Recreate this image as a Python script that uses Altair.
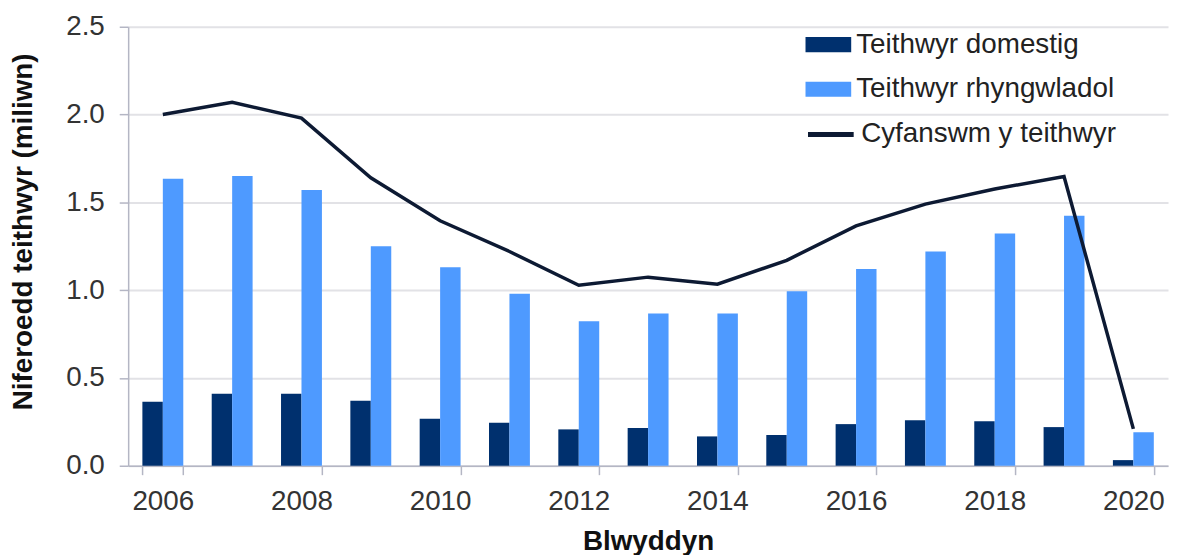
import altair as alt
import pandas as pd

years = list(range(2006, 2021))
domestic = [0.365, 0.41, 0.41, 0.37, 0.267, 0.245, 0.207, 0.215, 0.167, 0.175, 0.237, 0.259, 0.253, 0.22, 0.032]
international = [1.635, 1.65, 1.57, 1.25, 1.13, 0.98, 0.823, 0.867, 0.867, 0.994, 1.12, 1.22, 1.323, 1.424, 0.19]
total = [2.0, 2.07, 1.98, 1.64, 1.395, 1.22, 1.028, 1.074, 1.034, 1.17, 1.366, 1.49, 1.576, 1.647, 0.21]

bar_series = ["Teithwyr domestig", "Teithwyr rhyngwladol"]
line_series = ["Cyfanswm y teithwyr"]
bar_colors = ["#00306e", "#4e9aff"]
line_colors = ["#0d1a33"]
y_ticks = [0, 0.5, 1.0, 1.5, 2.0, 2.5]
x_label_years = [2006, 2008, 2010, 2012, 2014, 2016, 2018, 2020]

bars_df = pd.DataFrame({
    "year": years * 2,
    "series": [bar_series[0]] * len(years) + [bar_series[1]] * len(years),
    "value": domestic + international,
})
line_df = pd.DataFrame({
    "year": years,
    "series": line_series * len(years),
    "value": total,
})

FONT = "Liberation Sans"
AXIS_GRAY = "#b4b6c4"

x_enc = alt.X(
    "year:O",
    scale=alt.Scale(paddingInner=0.41, paddingOuter=0.205),
    axis=alt.Axis(
        values=x_label_years,
        labelAngle=0,
        tickBand="extent",
        tickSize=9,
        tickColor=AXIS_GRAY,
        tickWidth=1.5,
        domainColor=AXIS_GRAY,
        domainWidth=1.5,
        labelFont=FONT,
        labelFontSize=28,
        labelColor="#333333",
        labelBaseline="alphabetic",
        labelPadding=35,
        grid=False,
        title="Blwyddyn",
        titleFont=FONT,
        titleFontSize=28,
        titleFontWeight="bold",
        titleColor="#111111",
        titleBaseline="alphabetic",
        titleY=84,
    ),
)

y_enc = alt.Y(
    "value:Q",
    scale=alt.Scale(domain=[0, 2.5], nice=False),
    axis=alt.Axis(
        values=y_ticks,
        format=".1f",
        tickSize=9,
        tickColor=AXIS_GRAY,
        tickWidth=1.5,
        domainColor=AXIS_GRAY,
        domainWidth=1.5,
        labelFont=FONT,
        labelFontSize=28,
        labelColor="#333333",
        labelPadding=15,
        grid=True,
        gridColor="#e2e2e6",
        gridWidth=2,
        title="Niferoedd teithwyr (miliwn)",
        titleFont=FONT,
        titleFontSize=28,
        titleFontWeight="bold",
        titleColor="#111111",
        titleBaseline="middle",
        titleX=-105,
        titleY=206,
    ),
)

bars = alt.Chart(bars_df).mark_bar().encode(
    x=x_enc,
    xOffset=alt.XOffset("series:N", sort=bar_series, scale=alt.Scale(paddingInner=0, paddingOuter=0)),
    y=y_enc,
    color=alt.Color(
        "series:N",
        scale=alt.Scale(domain=bar_series, range=bar_colors),
        legend=alt.Legend(
            orient="none",
            legendX=682,
            legendY=-5,
            title=None,
            padding=0,
            symbolType="M-1,-0.33H1V0.33H-1Z",
            symbolSize=2116,
            symbolStrokeWidth=0,
            labelFont=FONT,
            labelFontSize=28,
            labelColor="#222222",
            labelOffset=5,
            rowPadding=8,
            labelLimit=400,
        ),
    ),
)

line = alt.Chart(line_df).mark_line(strokeWidth=3.5).encode(
    x=alt.X("year:O"),
    y=alt.Y("value:Q"),
    stroke=alt.Stroke(
        "series:N",
        scale=alt.Scale(domain=line_series, range=line_colors),
        legend=alt.Legend(
            orient="none",
            legendX=682,
            legendY=83,
            title=None,
            padding=0,
            symbolType="stroke",
            symbolSize=2116,
            symbolStrokeWidth=5,
            labelFont=FONT,
            labelFontSize=28,
            labelColor="#222222",
            labelOffset=5,
            labelLimit=400,
        ),
    ),
)

chart = (
    alt.layer(bars, line)
    .resolve_scale(color="independent", stroke="independent")
    .properties(
        width=1047,
        height=442,
        autosize=alt.AutoSizeParams(type="none"),
        padding={"left": 121, "top": 17, "right": 3, "bottom": 88},
        background="white",
    )
    .configure_view(stroke=None)
)

chart.save("out.html", embed_options={"renderer": "svg", "actions": False})
